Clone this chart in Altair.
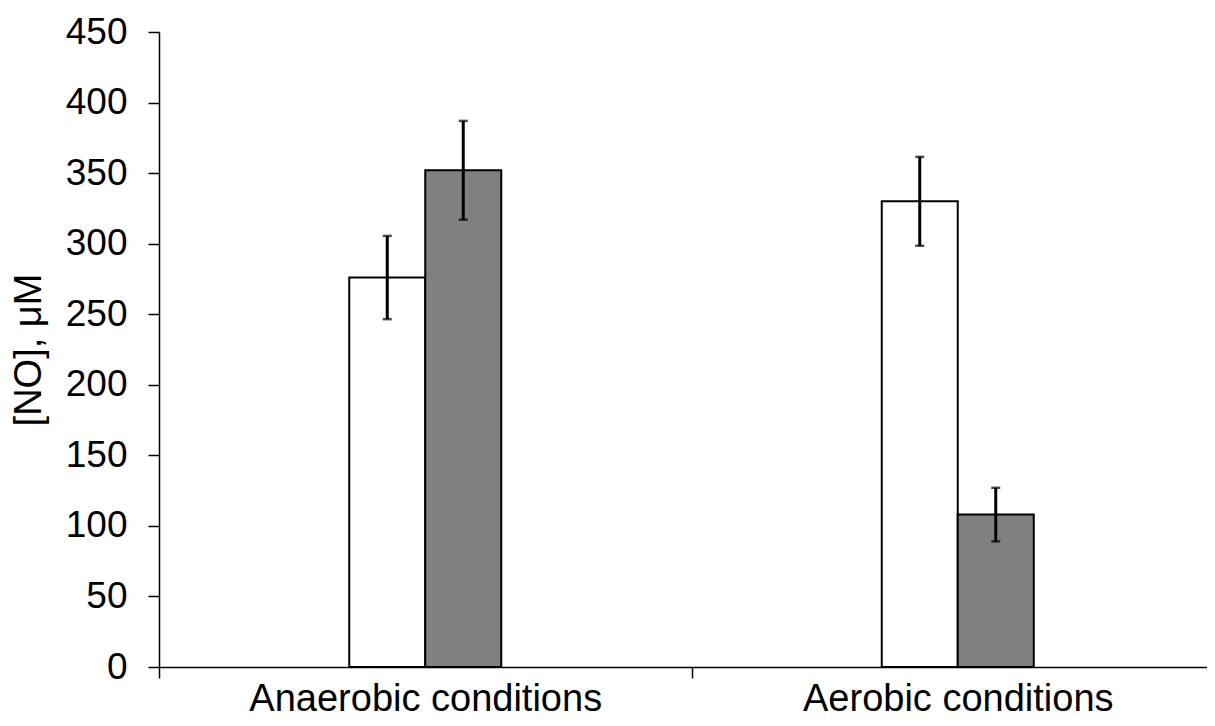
import altair as alt
import pandas as pd

conditions = ["Anaerobic conditions", "Anaerobic conditions", "Aerobic conditions", "Aerobic conditions"]
series = ["Series 1", "Series 2", "Series 1", "Series 2"]
values = [276, 352, 330, 108]
errors = [29.5, 35, 31.5, 19]

category_order = ["Anaerobic conditions", "Aerobic conditions"]
series_order = ["Series 1", "Series 2"]
fill_colors = ["#ffffff", "#808080"]

df = pd.DataFrame({"cond": conditions, "series": series, "value": values, "err": errors})
df["lo"] = df["value"] - df["err"]
df["hi"] = df["value"] + df["err"]

FONT = "Liberation Sans"

x_enc = alt.X(
    "cond:N",
    sort=category_order,
    scale=alt.Scale(domain=category_order, paddingInner=0, paddingOuter=0, range=[0, 1065]),
    axis=alt.Axis(
        title=None,
        labelAngle=0,
        labelFontSize=38,
        labelFont=FONT,
        labelColor="black",
        labelPadding=2,
        labelLimit=0,
        tickBand="extent",
        tickSize=11,
        tickColor="black",
        tickWidth=1.5,
        domainColor="black",
        domainWidth=1.5,
        grid=False,
    ),
)
xoff_enc = alt.XOffset(
    "series:N",
    sort=series_order,
    scale=alt.Scale(domain=series_order, paddingInner=0, paddingOuter=0, range=[190.25, 342.25]),
)
y_scale = alt.Scale(domain=[0, 450], nice=False)
y_axis = alt.Axis(
    title="[NO], μM",
    titleFontSize=38,
    titleFont=FONT,
    titleFontWeight="normal",
    titleColor="black",
    titlePadding=17,
    values=list(range(0, 451, 50)),
    labelFontSize=37,
    labelFont=FONT,
    labelColor="black",
    labelPadding=21,
    tickSize=11,
    tickColor="black",
    tickWidth=1.5,
    domainColor="black",
    domainWidth=1.5,
    grid=False,
)

base = alt.Chart(df)

bars = base.mark_bar(stroke="black", strokeWidth=2, opacity=1).encode(
    x=x_enc,
    xOffset=xoff_enc,
    y=alt.Y("value:Q", scale=y_scale, axis=y_axis),
    fill=alt.Fill("series:N", scale=alt.Scale(domain=series_order, range=fill_colors), legend=None),
)

rules = base.mark_rule(color="black", strokeWidth=3).encode(
    x=x_enc,
    xOffset=xoff_enc,
    y=alt.Y("lo:Q", scale=y_scale),
    y2="hi:Q",
)

caps_hi = base.mark_tick(color="black", thickness=2.5, size=9, orient="horizontal").encode(
    x=x_enc, xOffset=xoff_enc, y=alt.Y("hi:Q", scale=y_scale)
)
caps_lo = base.mark_tick(color="black", thickness=2.5, size=9, orient="horizontal").encode(
    x=x_enc, xOffset=xoff_enc, y=alt.Y("lo:Q", scale=y_scale)
)

chart = (
    alt.layer(bars, rules, caps_hi, caps_lo)
    .properties(
        width=1048,
        height=635,
        autosize=alt.AutoSizeParams(type="none"),
        padding={"left": 151, "top": 24, "right": 0, "bottom": 51},
        background="white",
    )
    .configure_view(stroke=None)
)

chart.save("out.html", embed_options={"renderer": "svg", "actions": False})
